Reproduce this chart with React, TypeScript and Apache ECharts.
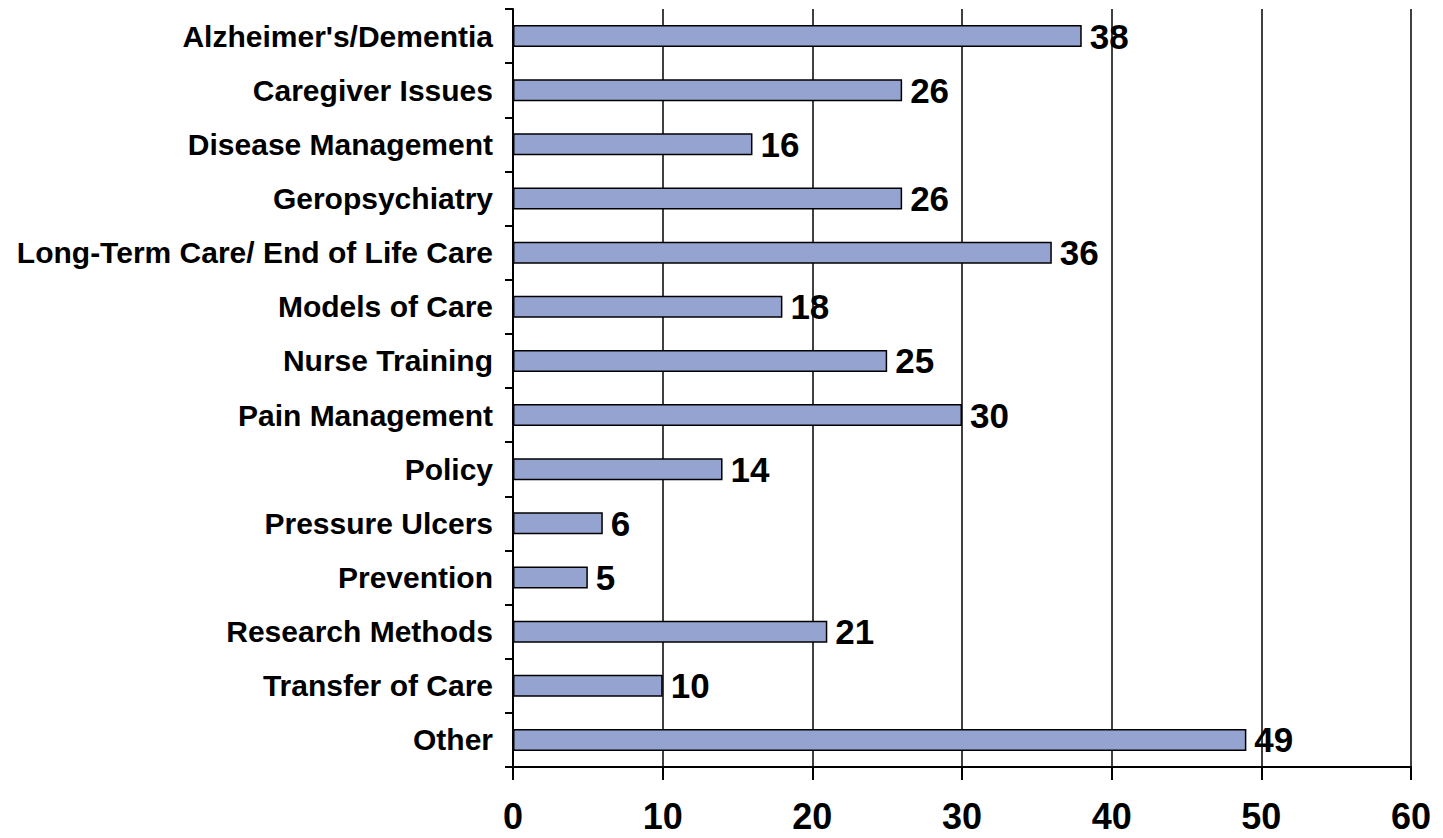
import React, { useEffect, useRef } from "react";
import * as echarts from "echarts";

const categories = [
  "Alzheimer's/Dementia",
  "Caregiver Issues",
  "Disease Management",
  "Geropsychiatry",
  "Long-Term Care/ End of Life Care",
  "Models of Care",
  "Nurse Training",
  "Pain Management",
  "Policy",
  "Pressure Ulcers",
  "Prevention",
  "Research Methods",
  "Transfer of Care",
  "Other",
];
const values = [38, 26, 16, 26, 36, 18, 25, 30, 14, 6, 5, 21, 10, 49];
const xMin = 0;
const xMax = 60;
const xInterval = 10;

export default function App() {
  const ref = useRef<HTMLDivElement>(null);
  useEffect(() => {
    if (!ref.current) return;
    const chart = echarts.init(ref.current, null, { renderer: "svg" });
    chart.setOption({
      animation: false,
      backgroundColor: "#ffffff",
      grid: { left: 513, right: 32, top: 9, bottom: 71, containLabel: false },
      xAxis: {
        type: "value",
        min: xMin,
        max: xMax,
        interval: xInterval,
        axisLine: { show: true, lineStyle: { color: "#000", width: 2 } },
        axisTick: { show: true, length: 13, lineStyle: { color: "#000", width: 2 } },
        axisLabel: {
          margin: 31,
          color: "#000",
          fontSize: 36,
          lineHeight: 36,
          fontWeight: "bold",
          fontFamily: "Liberation Sans, Arial, sans-serif",
        },
        splitLine: { show: true, lineStyle: { color: "#000", width: 1.5 } },
      },
      yAxis: {
        type: "category",
        inverse: true,
        data: categories,
        axisLine: { show: true, lineStyle: { color: "#000", width: 2 } },
        axisTick: { show: true, length: 8, lineStyle: { color: "#000", width: 2 } },
        axisLabel: {
          margin: 20,
          color: "#000",
          fontSize: 30,
          fontWeight: "bold",
          fontFamily: "Liberation Sans, Arial, sans-serif",
        },
        splitLine: { show: false },
      },
      series: [
        {
          type: "bar",
          data: values,
          barWidth: 22,
          itemStyle: { color: "#95a3d1", borderColor: "#000", borderWidth: 1.5 },
          label: {
            show: true,
            position: "right",
            distance: 8,
            color: "#000",
            fontSize: 35,
            fontWeight: "bold",
            fontFamily: "Liberation Sans, Arial, sans-serif",
          },
          z: 3,
        },
      ],
    });
    return () => chart.dispose();
  }, []);
  return <div ref={ref} style={{ width: 1443, height: 838, position: "absolute", left: 0, top: 0 }} />;
}
